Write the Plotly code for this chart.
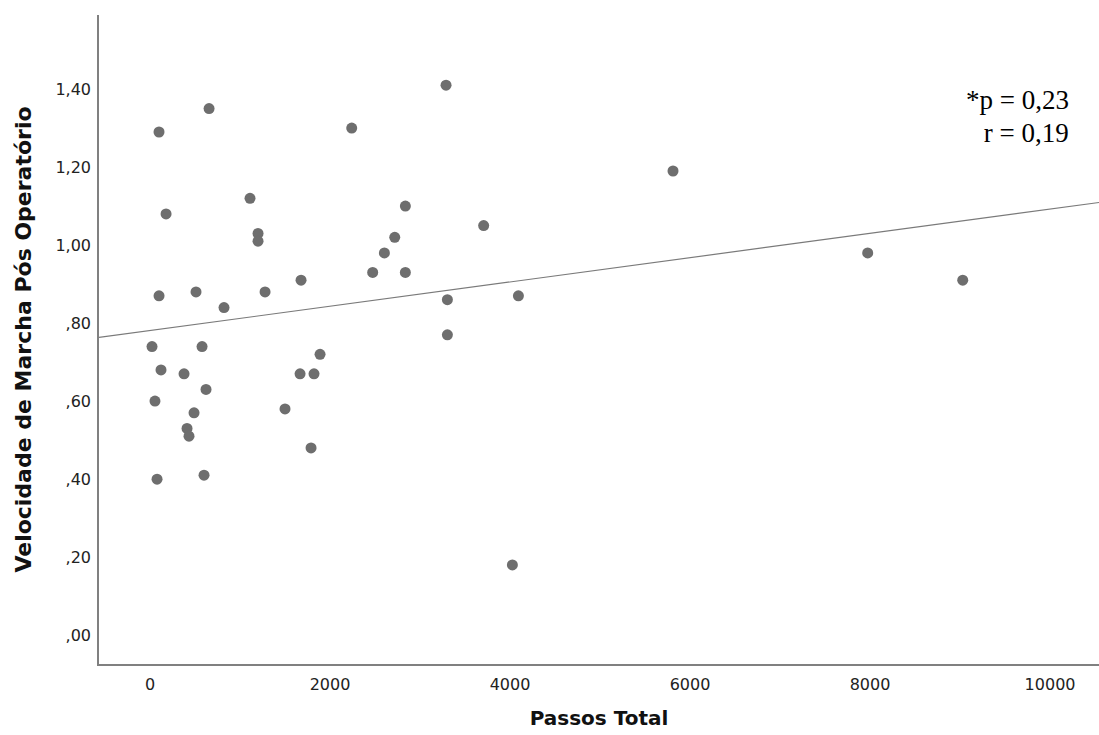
import numpy as np
import plotly.graph_objects as go

# Data
passos_total = [22, 100, 55, 100, 122, 78, 178, 378, 411, 433, 489, 511, 578, 622,
                600, 656, 822, 1111, 1200, 1200, 1278, 1500, 1667, 1678, 1789, 1822,
                1889, 2241, 2474, 2604, 2719, 2837, 2837, 3289, 3304, 3304, 3707,
                4026, 4093, 5811, 7974, 9030]
velocidade = [0.74, 1.29, 0.60, 0.87, 0.68, 0.40, 1.08, 0.67, 0.53, 0.51, 0.57, 0.88,
              0.74, 0.63, 0.41, 1.35, 0.84, 1.12, 1.03, 1.01, 0.88, 0.58, 0.67, 0.91,
              0.48, 0.67, 0.72, 1.30, 0.93, 0.98, 1.02, 1.10, 0.93, 1.41, 0.86, 0.77,
              1.05, 0.18, 0.87, 1.19, 0.98, 0.91]

y_tickvals = [0.0, 0.2, 0.4, 0.6, 0.8, 1.0, 1.2, 1.4]
y_ticktext = [",00", ",20", ",40", ",60", ",80", "1,00", "1,20", "1,40"]
x_tickvals = [0, 2000, 4000, 6000, 8000, 10000]
x_ticktext = ["0", "2000", "4000", "6000", "8000", "10000"]

stats_lines = ["*p = 0,23", " r = 0,19"]

x_range = [-567, 10544]
y_range = [-0.074, 1.59]

# Linear fit computed from the data
slope, intercept = np.polyfit(passos_total, velocidade, 1)
fit_x = np.array(x_range, dtype=float)
fit_y = intercept + slope * fit_x

fig = go.Figure()
fig.add_trace(go.Scatter(
    x=list(fit_x), y=list(fit_y), mode="lines",
    line=dict(color="#7a7a7a", width=1.2), hoverinfo="skip", showlegend=False,
))
fig.add_trace(go.Scatter(
    x=passos_total, y=velocidade, mode="markers",
    marker=dict(color="#6e6e6e", size=11, line=dict(width=0)),
    showlegend=False,
))

for txt, ypos in zip(stats_lines, [0.895, 0.844]):
    fig.add_annotation(
        text=txt, xref="paper", yref="paper",
        x=0.972, y=ypos, xanchor="right", yanchor="top", align="right",
        showarrow=False, font=dict(family="Liberation Serif", size=27, color="#000000"),
    )

fig.update_layout(
    width=1099, height=735,
    margin=dict(l=99, r=0, t=15, b=71),
    paper_bgcolor="white", plot_bgcolor="white",
    font=dict(family="DejaVu Sans", color="#222222"),
    xaxis=dict(
        range=x_range, tickvals=x_tickvals, ticktext=x_ticktext, automargin=False,
        showgrid=False, zeroline=False, showline=True, linecolor="#808080", linewidth=1.5,
        ticks="", ticklabelstandoff=5, tickfont=dict(size=16, color="#222222"),
        title=dict(text="<b>Passos Total</b>", font=dict(size=20, color="#111111"), standoff=18),
    ),
    yaxis=dict(
        range=y_range, tickvals=y_tickvals, ticktext=y_ticktext, automargin=False,
        showgrid=False, zeroline=False, showline=True, linecolor="#808080", linewidth=1.5,
        ticks="", ticklabelstandoff=3, tickfont=dict(size=16, color="#222222"),
        title=dict(text="<b>Velocidade de Marcha Pós Operatório</b>",
                   font=dict(size=22, color="#111111"), standoff=18),
    ),
)

fig.write_html(
    "out.html",
    config={"displayModeBar": False},
    post_script="document.body.style.margin='0';document.body.style.overflow='hidden';",
)
